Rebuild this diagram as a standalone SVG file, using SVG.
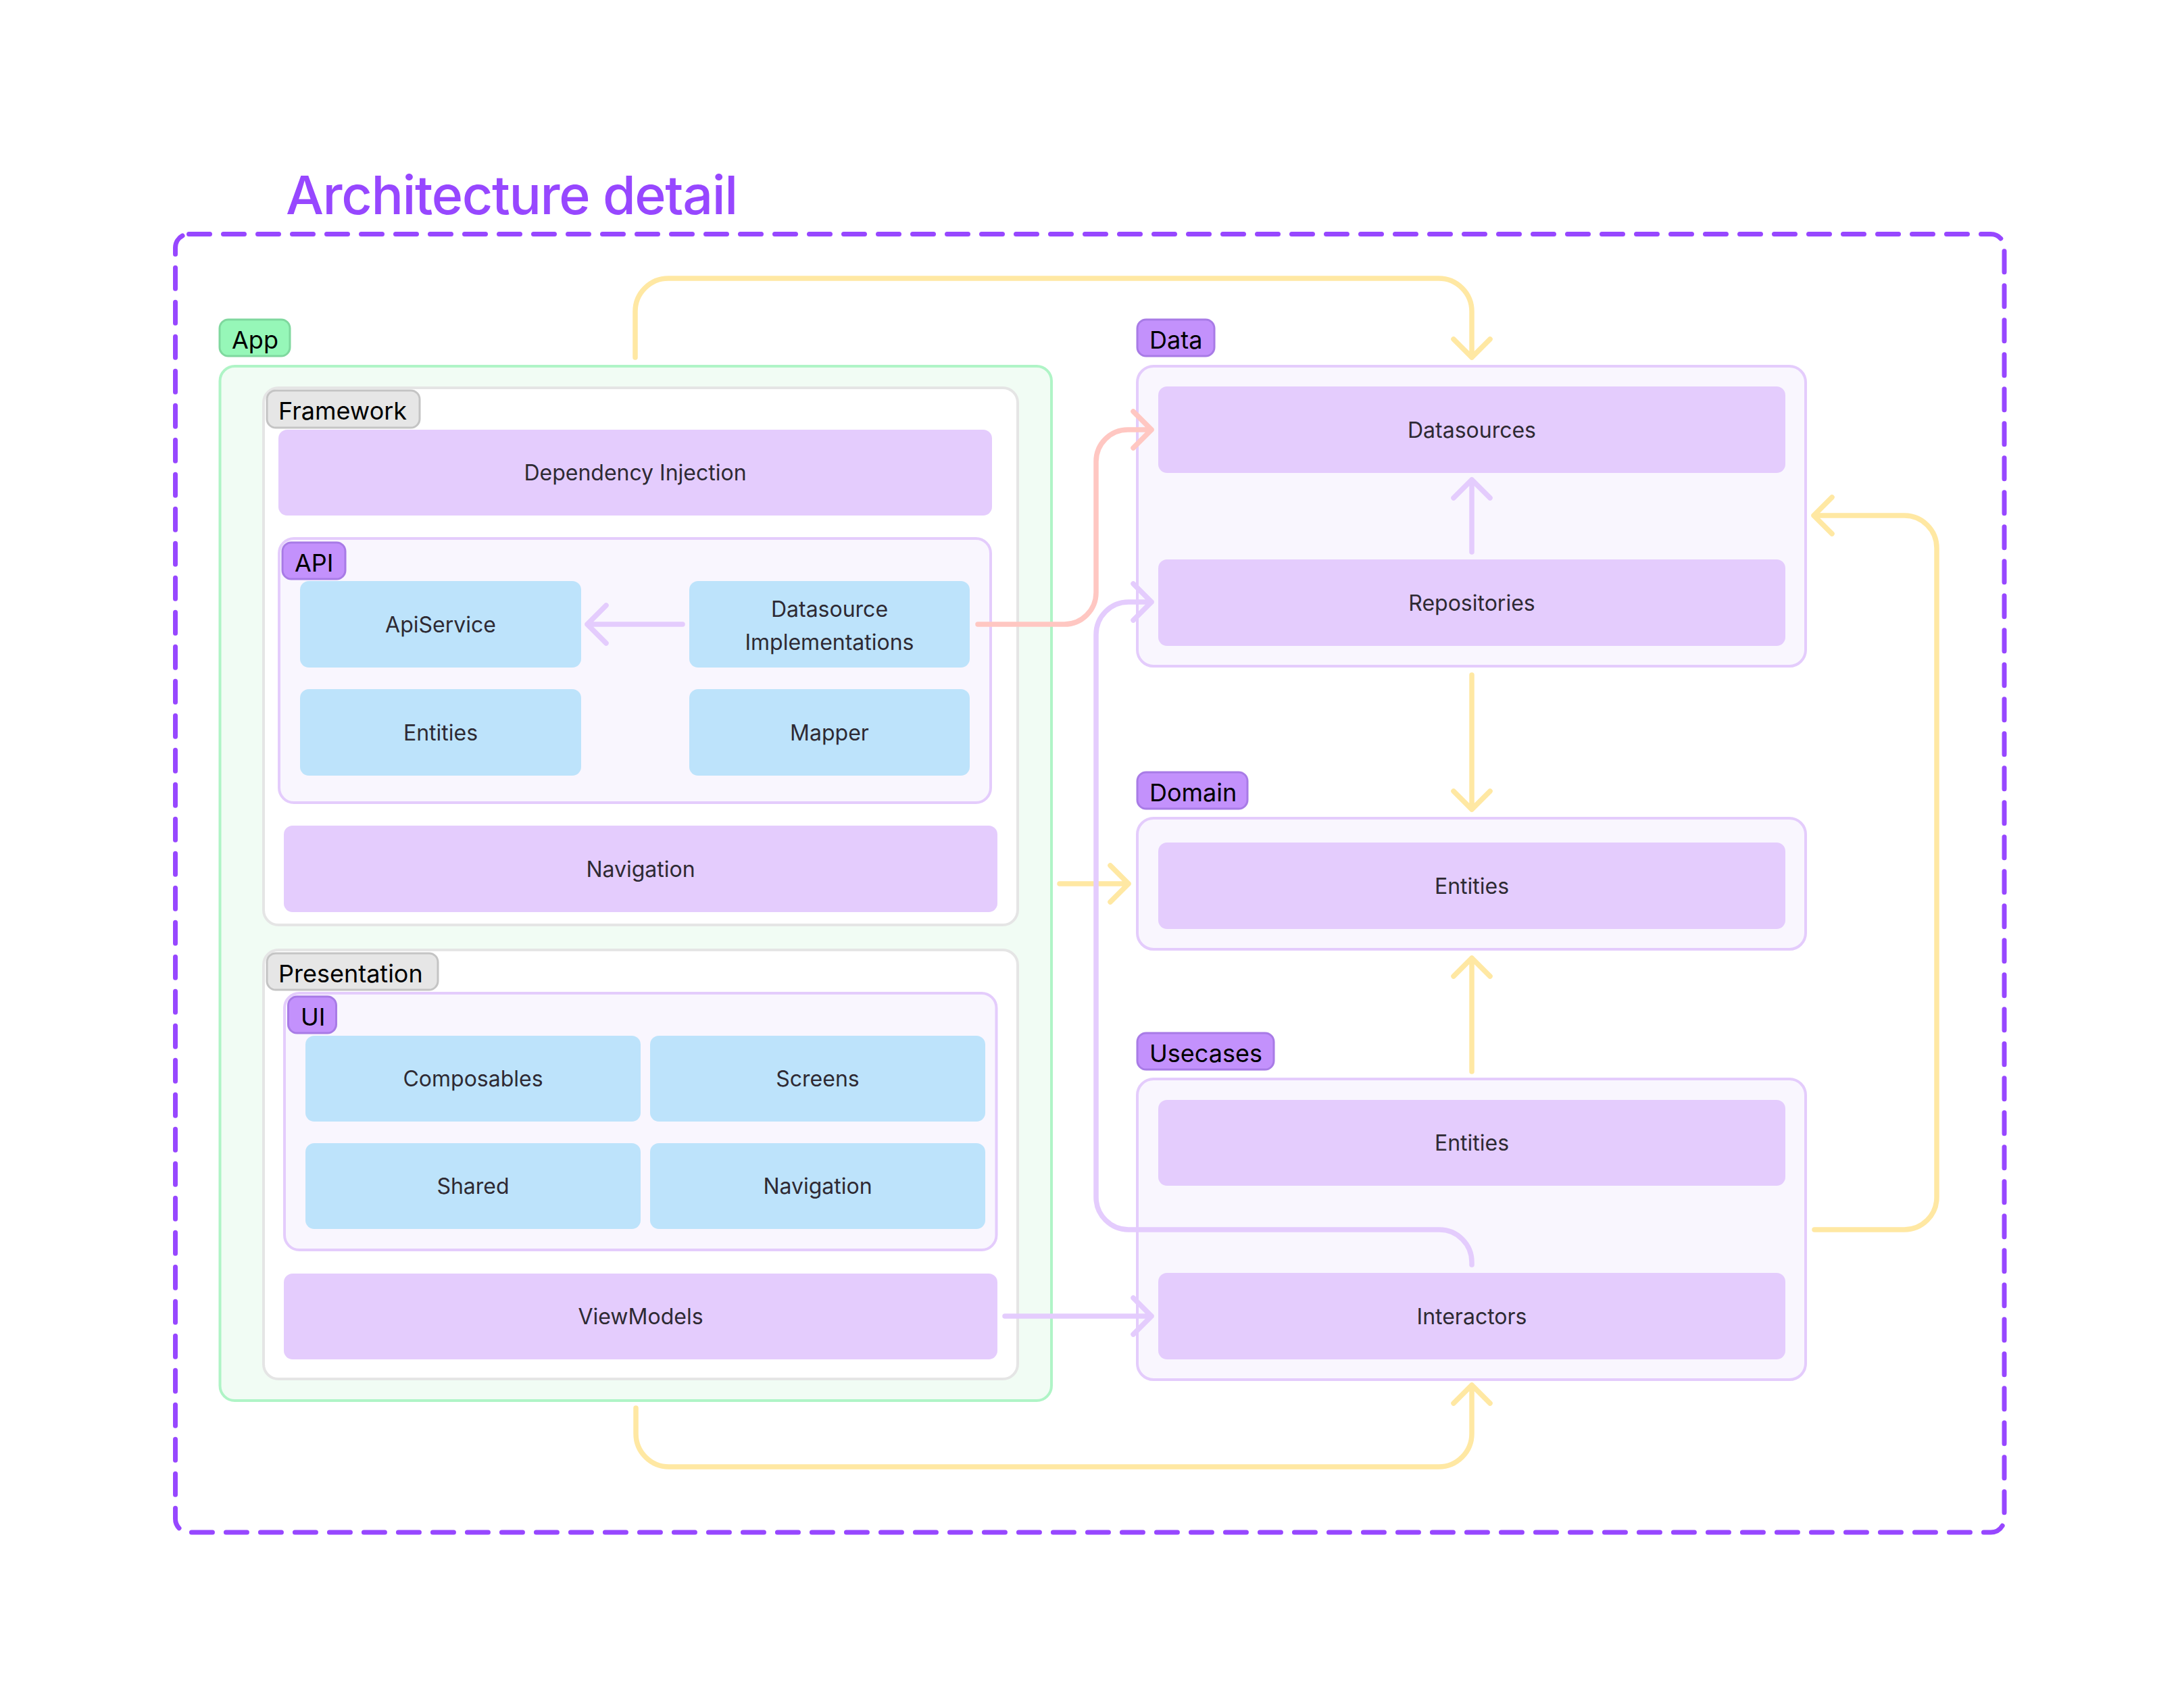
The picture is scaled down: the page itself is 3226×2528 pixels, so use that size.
<svg xmlns="http://www.w3.org/2000/svg" width="3226" height="2528" viewBox="0 0 3226 2528">
<defs>
<style>
text{font-family:Inter,"Noto Sans","Liberation Sans",sans-serif}
.title{font-size:79px;fill:#9747FF;font-weight:500;letter-spacing:-1.4px}
.lbl{font-size:36px;fill:#000}
.nt{font-size:32px;fill:#2E2A33;text-anchor:middle}
.lg{fill:#96F7B8;stroke:#7FD89E;stroke-width:3}
.lgray{fill:#E6E6E6;stroke:#C4C4C4;stroke-width:3}
.lp{fill:#C391FC;stroke:#A87BE6;stroke-width:3}
.appbox{fill:#F1FCF4;stroke:#AFF4C6;stroke-width:4}
.wbox{fill:#FFFFFF;stroke:#E5E5E5;stroke-width:4}
.pbox{fill:#F9F6FE;stroke:#E4CCFC;stroke-width:4}
.npur{fill:#E4CCFD}
.nblue{fill:#BDE3FB}
.c{fill:none;stroke-width:7.5;stroke-linecap:round;stroke-linejoin:round}
.y{stroke:#FFE8A3}
.pk{stroke:#FFC7C2}
.lv{stroke:#E4CCFD}
</style>
</defs>
<rect width="3226" height="2528" fill="#FFFFFF"/>
<text class="title" x="423" y="317">Architecture detail</text>
<rect id="outer" x="259.5" y="346.5" width="2706.5" height="1921.5" rx="20" fill="none" stroke="#9747FF" stroke-width="7" stroke-dasharray="31 20" stroke-linecap="round"/>

<g id="app">
<rect class="appbox" x="325.5" y="542" width="1230.5" height="1531" rx="22"/>
<rect class="lg" x="325" y="473" width="104" height="54" rx="13"/>
<text class="lbl" x="343" y="516">App</text>
</g>

<g id="framework">
<rect class="wbox" x="390" y="574" width="1116" height="795" rx="22"/>
<rect class="lgray" x="395" y="578" width="226" height="55" rx="13"/>
<text class="lbl" x="412" y="621">Framework</text>
</g>
<g id="dependency-injection">
<rect class="npur" x="412" y="636" width="1056" height="127" rx="13"/>
<text class="nt" x="940" y="711">Dependency Injection</text>
</g>
<g id="api">
<rect class="pbox" x="413" y="797" width="1053" height="391" rx="22"/>
<rect class="lp" x="418" y="803" width="93" height="54" rx="13"/>
<text class="lbl" x="436" y="846">API</text>
</g>
<g id="apiservice">
<rect class="nblue" x="444" y="860" width="416" height="128" rx="13"/>
<text class="nt" x="652" y="936">ApiService</text>
</g>
<g id="datasource-implementations">
<rect class="nblue" x="1020" y="860" width="415" height="128" rx="13"/>
<text class="nt" x="1227.5" y="913">Datasource</text>
<text class="nt" x="1227.5" y="962">Implementations</text>
</g>
<g id="api-entities">
<rect class="nblue" x="444" y="1020" width="416" height="128" rx="13"/>
<text class="nt" x="652" y="1096">Entities</text>
</g>
<g id="mapper">
<rect class="nblue" x="1020" y="1020" width="415" height="128" rx="13"/>
<text class="nt" x="1227.5" y="1096">Mapper</text>
</g>
<g id="framework-navigation">
<rect class="npur" x="420" y="1222" width="1056" height="128" rx="13"/>
<text class="nt" x="948" y="1298">Navigation</text>
</g>

<g id="presentation">
<rect class="wbox" x="390" y="1406" width="1116" height="635" rx="22"/>
<rect class="lgray" x="395" y="1411" width="253" height="54" rx="13"/>
<text class="lbl" x="412" y="1454">Presentation</text>
</g>
<g id="ui">
<rect class="pbox" x="421" y="1470" width="1053.5" height="380" rx="22"/>
<rect class="lp" x="426.5" y="1475" width="71" height="54" rx="13"/>
<text class="lbl" x="445" y="1518">UI</text>
</g>
<g id="composables">
<rect class="nblue" x="452" y="1533" width="496" height="127" rx="13"/>
<text class="nt" x="700" y="1608">Composables</text>
</g>
<g id="screens">
<rect class="nblue" x="962" y="1533" width="496" height="127" rx="13"/>
<text class="nt" x="1210" y="1608">Screens</text>
</g>
<g id="shared">
<rect class="nblue" x="452" y="1692" width="496" height="127" rx="13"/>
<text class="nt" x="700" y="1767">Shared</text>
</g>
<g id="ui-navigation">
<rect class="nblue" x="962" y="1692" width="496" height="127" rx="13"/>
<text class="nt" x="1210" y="1767">Navigation</text>
</g>
<g id="viewmodels">
<rect class="npur" x="420" y="1885" width="1056" height="127" rx="13"/>
<text class="nt" x="948" y="1960">ViewModels</text>
</g>

<g id="data">
<rect class="pbox" x="1683" y="542" width="989" height="444" rx="24"/>
<rect class="lp" x="1683" y="473" width="114" height="54" rx="13"/>
<text class="lbl" x="1701" y="516">Data</text>
</g>
<g id="datasources">
<rect class="npur" x="1714" y="572" width="928" height="128" rx="13"/>
<text class="nt" x="2178" y="648">Datasources</text>
</g>
<g id="repositories">
<rect class="npur" x="1714" y="828" width="928" height="128" rx="13"/>
<text class="nt" x="2178" y="904">Repositories</text>
</g>

<g id="domain">
<rect class="pbox" x="1683" y="1211" width="989" height="194" rx="24"/>
<rect class="lp" x="1683" y="1143" width="163" height="54" rx="13"/>
<text class="lbl" x="1701" y="1186">Domain</text>
</g>
<g id="domain-entities">
<rect class="npur" x="1714" y="1247" width="928" height="128" rx="13"/>
<text class="nt" x="2178" y="1323">Entities</text>
</g>

<g id="usecases">
<rect class="pbox" x="1683" y="1597" width="989" height="445" rx="24"/>
<rect class="lp" x="1683" y="1529" width="202" height="54" rx="13"/>
<text class="lbl" x="1701" y="1572">Usecases</text>
</g>
<g id="usecases-entities">
<rect class="npur" x="1714" y="1628" width="928" height="127" rx="13"/>
<text class="nt" x="2178" y="1703">Entities</text>
</g>
<g id="interactors">
<rect class="npur" x="1714" y="1884" width="928" height="128" rx="13"/>
<text class="nt" x="2178" y="1960">Interactors</text>
</g>

<g id="connectors">
<path class="c y" d="M940 529 V461 A49 49 0 0 1 989 412 H2129 A49 49 0 0 1 2178 461 V529 M2151 502 L2178 529 L2205 502"/>
<path class="c pk" d="M1447 924 H1575 A47 47 0 0 0 1622 877 V683 A47 47 0 0 1 1669 636 H1704 M1677 609 L1704 636 L1677 663"/>
<path class="c lv" d="M1010 924 H869 M897 896 L869 924 L897 952"/>
<path class="c lv" d="M2178 817 V710 M2151 737 L2178 710 L2205 737"/>
<path class="c y" d="M2178 999 V1198 M2151 1171 L2178 1198 L2205 1171"/>
<path class="c y" d="M1568 1308 H1670 M1643 1281 L1670 1308 L1643 1335"/>
<path class="c y" d="M2178 1586 V1418 M2151 1445 L2178 1418 L2205 1445"/>
<path class="c y" d="M2685 1820 H2818 A48 48 0 0 0 2866 1772 V811 A48 48 0 0 0 2818 763 H2684 M2711 736 L2684 763 L2711 790"/>
<path class="c lv" d="M2178 1872 V1868 A48 48 0 0 0 2130 1820 H1670 A48 48 0 0 1 1622 1772 V939 A48 48 0 0 1 1670 891 H1704 M1677 864 L1704 891 L1677 918"/>
<path class="c lv" d="M1487 1948 H1704 M1677 1921 L1704 1948 L1677 1975"/>
<path class="c y" d="M941 2084 V2122 A49 49 0 0 0 990 2171 H2129 A49 49 0 0 0 2178 2122 V2050 M2151 2077 L2178 2050 L2205 2077"/>
</g>
</svg>
